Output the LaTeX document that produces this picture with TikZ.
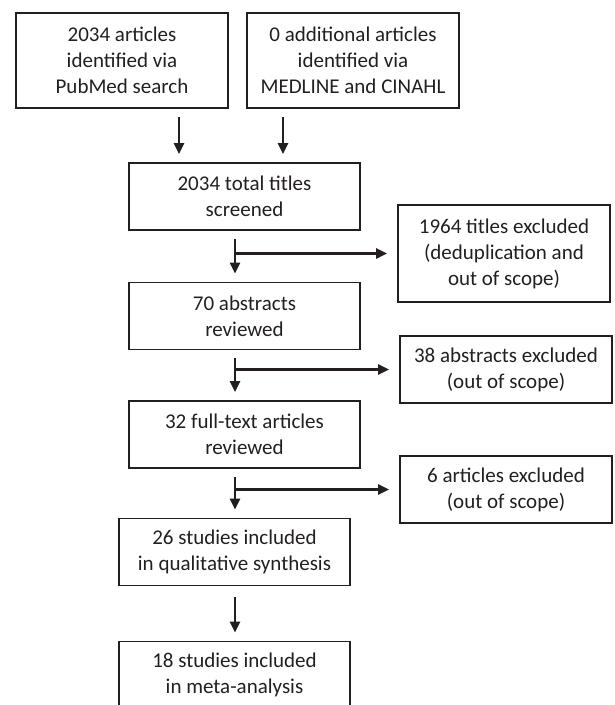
\documentclass[tikz,border=0pt]{standalone}
\usepackage{fontspec}
\setmainfont{Carlito}
\usepackage{tikz}
\usetikzlibrary{arrows.meta,positioning}
\definecolor{inkgray}{RGB}{35,31,32}

\begin{document}
\begin{tikzpicture}[x=1pt,y=-1pt,
          every node/.style={draw=inkgray,line width=1.8pt,text=inkgray,
            align=center,inner sep=0pt,font=\fontsize{21}{26}\selectfont},
          srcbox/.style={minimum width=212pt,minimum height=95pt},
          mainbox/.style={minimum width=231pt,minimum height=67pt},
          sidebox/.style={minimum width=212pt,minimum height=67pt},
          edge/.style={draw=inkgray,line width=2.2pt,
            -{Triangle[length=11pt,width=10pt]},shorten <=8pt,shorten >=8pt},
          sideedge/.style={edge,shorten <=0pt,shorten >=10pt}]
          \useasboundingbox (0,0) rectangle (614,705);
          \clip (0,0) rectangle (614,705);
          \node[srcbox] (a) at (122,60.5) {2034 articles\\identified via\\PubMed search};
          \node[srcbox] (b) at (353,60.5) {0 additional articles\\identified via\\MEDLINE and CINAHL};
          \node[mainbox] (c) at (244.5,196.5) {2034 total titles\\screened};
          \node[srcbox,minimum height=97pt] (x1) at (504,253.5) {1964 titles excluded\\(deduplication and\\out of scope)};
          \node[mainbox] (d) at (244.5,316) {70 abstracts\\reviewed};
          \node[sidebox] (x2) at (506,369.5) {38 abstracts excluded\\(out of scope)};
          \node[mainbox] (f) at (244.5,434.5) {32 full-text articles\\reviewed};
          \node[sidebox] (x3) at (506,489.5) {6 articles excluded\\(out of scope)};
          \node[mainbox] (g) at (234.5,552) {26 studies included\\in qualitative synthesis};
          \node[mainbox] (h) at (234.5,675) {18 studies included\\in meta-analysis};
          \coordinate (ja) at (179,0);
          \coordinate (jb) at (283,0);
          \coordinate (v) at (235,0);
          \draw[edge] (a.south -| ja)--(c.north -| ja);
          \draw[edge] (b.south -| jb)--(c.north -| jb);
          \draw[edge] (c.south -| v)--(d.north -| v);
          \draw[sideedge] (v |- x1.west)--(x1.west);
          \draw[edge] (d.south -| v)--(f.north -| v);
          \draw[sideedge] (v |- x2.west)--(x2.west);
          \draw[edge] (f.south -| v)--(g.north -| v);
          \draw[sideedge] (v |- x3.west)--(x3.west);
          \draw[edge,shorten <=11pt] (g.south -| v)--(h.north -| v);
        \end{tikzpicture}
\end{document}
